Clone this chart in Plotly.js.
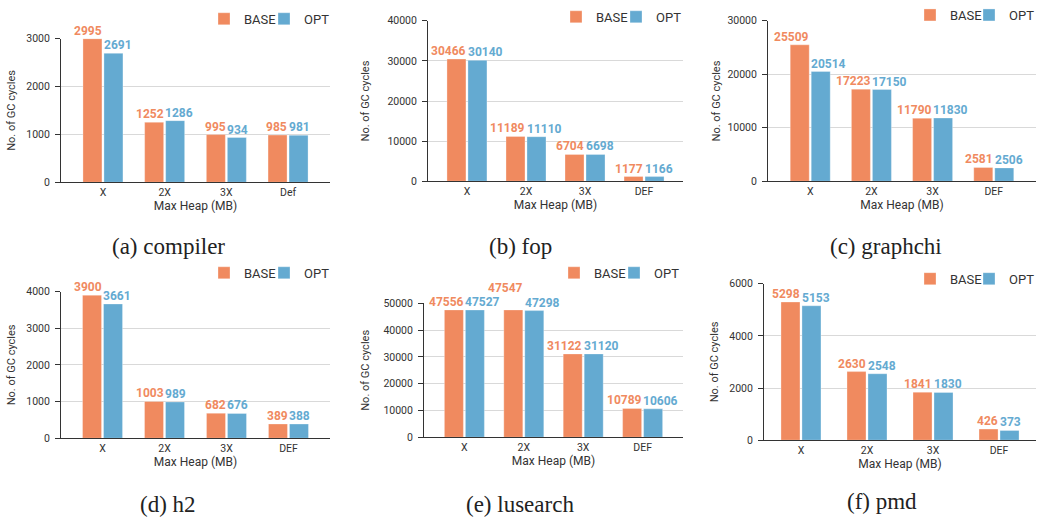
<!DOCTYPE html>
<html>
<head>
<meta charset="utf-8">
<script src="https://cdn.plot.ly/plotly-3.0.1.min.js"></script>
<style>
html,body{margin:0;padding:0;background:#fff;}
#chart{width:1044px;height:518px;}
</style>
</head>
<body>
<div id="chart"></div>
<script>
// ---- data ----
const seriesNames = ['BASE', 'OPT'];
const catsCompiler = ['X', '2X', '3X', 'Def'];
const catsOther = ['X', '2X', '3X', 'DEF'];

const compilerBase = [2995, 1252, 995, 985];
const compilerOpt  = [2691, 1286, 934, 981];
const fopBase = [30466, 11189, 6704, 1177];
const fopOpt  = [30140, 11110, 6698, 1166];
const graphchiBase = [25509, 17223, 11790, 2581];
const graphchiOpt  = [20514, 17150, 11830, 2506];
const h2Base = [3900, 1003, 682, 389];
const h2Opt  = [3661, 989, 676, 388];
const lusearchBase = [47556, 47547, 31122, 10789];
const lusearchOpt  = [47527, 47298, 31120, 10606];
const pmdBase = [5298, 2630, 1841, 426];
const pmdOpt  = [5153, 2548, 1830, 373];

const captions = ['(a) compiler', '(b) fop', '(c) graphchi', '(d) h2', '(e) lusearch', '(f) pmd'];
const yMax = [3000, 40000, 30000, 4000, 50000, 6000];
const yStep = [1000, 10000, 10000, 1000, 10000, 2000];

// ---- layout geometry (pixels) ----
const W = 1044, H = 518;
const panels = [
  {cats: catsCompiler, base: compilerBase, opt: compilerOpt, L: 61, R: 330, T: 31, B: 177, pad: 0.68, legX: 243, legX2: 303, legY: 14, capX: 168, capY: 242, standoff: 8},
  {cats: catsOther, base: fopBase, opt: fopOpt, L: 428, R: 683, T: 13, B: 176, pad: 0.66, legX: 595, legX2: 655, legY: 12, capX: 520, capY: 242, standoff: 15},
  {cats: catsOther, base: graphchiBase, opt: graphchiOpt, L: 768, R: 1036, T: 13, B: 176, pad: 0.69, legX: 949, legX2: 1008, legY: 10, capX: 886, capY: 242, standoff: 4},
  {cats: catsOther, base: h2Base, opt: h2Opt, L: 61, R: 330, T: 288, B: 437, pad: 0.67, legX: 243, legX2: 303, legY: 272, capX: 168, capY: 504, standoff: 8},
  {cats: catsOther, base: lusearchBase, opt: lusearchOpt, L: 424, R: 683, T: 300, B: 436, pad: 0.68, legX: 593, legX2: 653, legY: 272, capX: 520, capY: 504, standoff: 11},
  {cats: catsOther, base: pmdBase, opt: pmdOpt, L: 764, R: 1036, T: 280, B: 439, pad: 0.56, legX: 949, legX2: 1008, legY: 278, capX: 882, capY: 501, standoff: 8}
];

const orange = '#F08A5F';
const blue = '#64AAD1';
const FONT = 'Roboto, Arial, sans-serif';
const LABEL_SIZE = 12;
const DIGIT_W = 6.9;
const LABEL_H = 14;
const px = x => x / W;
const py = y => 1 - y / H;

const traces = [];
const layout = {
  width: W, height: H,
  margin: {l: 0, r: 0, t: 0, b: 0},
  paper_bgcolor: '#fff', plot_bgcolor: '#fff',
  font: {family: FONT, color: '#333'},
  showlegend: true,
  annotations: [],
  barmode: 'overlay'
};

let legCount = 0;
panels.forEach((p, i) => {
  const n = i + 1;
  const sfx = n === 1 ? '' : String(n);
  const xa = 'x' + sfx, ya = 'y' + sfx;
  const spacing = (p.R - p.L) / (3 + 2 * p.pad);
  const barPx = 19, gapPx = 2;
  const w = barPx / spacing;
  const g = gapPx / spacing;
  const series = [
    {vals: p.base, col: orange, name: seriesNames[0], off: -(w + g / 2), lx: p.legX, sign: -1},
    {vals: p.opt, col: blue, name: seriesNames[1], off: g / 2, lx: p.legX2, sign: 1}
  ];
  series.forEach(s => {
    legCount++;
    const legName = legCount === 1 ? 'legend' : 'legend' + legCount;
    traces.push({
      type: 'bar', x: p.cats, y: s.vals, name: s.name,
      xaxis: xa, yaxis: ya, legend: legName,
      width: w, offset: s.off,
      marker: {color: s.col, line: {color: 'rgba(255,255,255,0.6)', width: 0.5}},
      hoverinfo: 'x+y+name'
    });
    layout[legName] = {
      orientation: 'h', x: px(s.lx - 39), xanchor: 'left',
      y: py(p.legY - 3), yanchor: 'middle',
      bgcolor: 'rgba(0,0,0,0)', borderwidth: 0,
      font: {family: FONT, size: 13, color: '#333'},
      itemclick: false, itemdoubleclick: false
    };
  });

  // value labels: anchored to each bar through the axes, nudged apart so they do not collide
  const placed = [];
  p.cats.forEach((c, j) => {
    series.forEach(s => {
      const v = s.vals[j];
      const label = String(v);
      const lw = label.length * DIGIT_W;
      const centerOff = barPx / 2 + gapPx / 2;
      const xshift = s.sign < 0 ? Math.min(-centerOff, -(1 + lw / 2)) : Math.max(centerOff, 1 + lw / 2);
      const cx = p.L + (j + p.pad) * spacing + xshift;
      let bottom = p.B - v / yMax[i] * (p.B - p.T) + 1;
      let lift = 0;
      let moved = true;
      while (moved) {
        moved = false;
        for (const b of placed) {
          const ox = Math.min(cx + lw / 2, b.x1) - Math.max(cx - lw / 2, b.x0);
          const top = bottom - lift - LABEL_H;
          const oy = Math.min(bottom - lift, b.y1) - Math.max(top, b.y0);
          if (ox > 1 && oy > 0) { lift = bottom - b.y0; moved = true; }
        }
      }
      placed.push({x0: cx - lw / 2, x1: cx + lw / 2, y0: bottom - lift - LABEL_H, y1: bottom - lift});
      layout.annotations.push({
        xref: xa, yref: ya, x: c, y: v,
        xanchor: 'center', yanchor: 'bottom', xshift: xshift, yshift: lift - 1,
        showarrow: false, text: '<b>' + label + '</b>',
        font: {family: FONT, size: LABEL_SIZE, color: s.col}
      });
    });
  });

  layout['xaxis' + sfx] = {
    domain: [px(p.L), px(p.R)], anchor: ya, type: 'category',
    range: [-p.pad, 3 + p.pad], showgrid: false, showline: true,
    linecolor: '#333', linewidth: 1, ticks: '', zeroline: false,
    tickfont: {family: FONT, size: 10.5, color: '#333'},
    title: {text: 'Max Heap (MB)', font: {family: FONT, size: 12, color: '#333'}, standoff: 2},
    fixedrange: true
  };
  layout['yaxis' + sfx] = {
    domain: [py(p.B), py(p.T)], anchor: xa,
    range: [0, yMax[i]], dtick: yStep[i], tick0: 0, tickformat: 'd',
    showgrid: true, gridcolor: '#d9d9d9', gridwidth: 1,
    showline: true, linecolor: '#333', linewidth: 1,
    ticks: 'outside', ticklen: 5, tickcolor: '#333', ticklabelstandoff: 3,
    zeroline: false,
    tickfont: {family: FONT, size: 10.5, color: '#333'},
    title: {text: 'No. of GC cycles', font: {family: FONT, size: 11, color: '#333'}, standoff: p.standoff},
    fixedrange: true
  };
  layout.annotations.push({
    xref: 'paper', yref: 'paper', x: px(p.capX), y: py(p.capY),
    xanchor: 'center', yanchor: 'middle', showarrow: false,
    text: captions[i],
    font: {family: '"Liberation Serif", "DejaVu Serif", serif', size: 23, color: '#222'}
  });
});

Plotly.newPlot('chart', traces, layout, {staticPlot: true, displayModeBar: false});
</script>
</body>
</html>
